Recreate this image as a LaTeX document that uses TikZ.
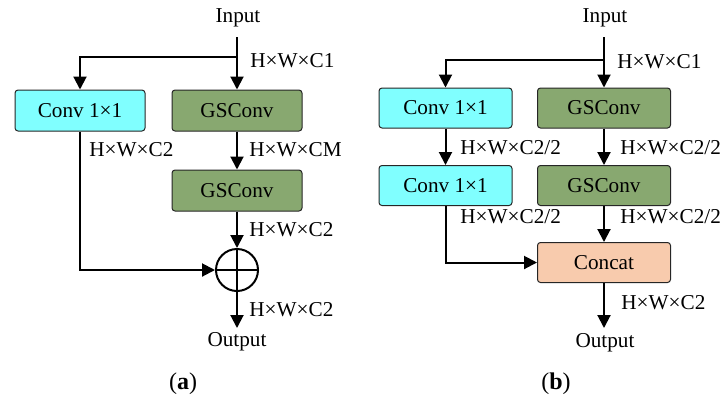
\documentclass[tikz,border=0pt]{standalone}
\usepackage{fontspec}
\setmainfont{Liberation Serif}
\usetikzlibrary{arrows.meta}
\definecolor{cyanbox}{HTML}{80FFFF}
\definecolor{greenbox}{HTML}{88A870}
\definecolor{peachbox}{HTML}{F8CBAD}
\begin{document}
\begin{tikzpicture}[x=0.5pt,y=-0.5pt,
  font=\fontsize{10.6}{12}\selectfont,
  blk/.style={draw=black!85,line width=0.5pt,rounded corners=1.5pt,minimum width=65pt,minimum height=20.5pt,inner sep=0pt},
  blkb/.style={blk,minimum width=66.5pt,minimum height=20pt},
  conn/.style={line width=1pt,-{Triangle[width=6.5pt,length=6.5pt]}},
  line/.style={line width=1pt},
  lab/.style={anchor=west,inner sep=0pt},
  txt/.style={inner sep=0pt},
  captext/.style={inner sep=0pt,font=\fontsize{12}{14}\selectfont}]
\useasboundingbox (0,0) rectangle (723,398);
% ---------- (a) ----------
\node[txt] (ina) at (238,18) {Input};
\node[blk,fill=cyanbox] (ca) at (80,110.5) {Conv 1×1};
\node[blk,fill=greenbox] (g1a) at (237,110.5) {GSConv};
\node[blk,fill=greenbox] (g2a) at (237,190.5) {GSConv};
\node[draw,circle,line width=1pt,minimum size=21pt,inner sep=0pt,
  path picture={\draw[line width=1pt] (path picture bounding box.north) -- (path picture bounding box.south)
  (path picture bounding box.west) -- (path picture bounding box.east);}] (adda) at (237,270) {};
\node[txt] (outa) at (237,342) {Output};
\node[captext] (capa) at (183,384) {(\textbf{a})};
\coordinate (ba) at (237,57);
\draw[line] (237,37) -- (ba);
\draw[conn] (ba) -- (g1a.north);
\draw[conn] (ba) -| (ca.north);
\draw[conn] (g1a) -- (g2a);
\draw[conn] (g2a) -- (adda);
\draw[conn] (ca.south) |- (adda.west);
\draw[conn] (adda.south) -- (237,328);
\node[lab] (la1) at (250,61) {H×W×C1};
\node[lab] (la2) at (89,150) {H×W×C2};
\node[lab] (la3) at (249,150) {H×W×CM};
\node[lab] (la4) at (249,230) {H×W×C2};
\node[lab] (la5) at (249,310) {H×W×C2};
% ---------- (b) ----------
\node[txt] (inb) at (605,18) {Input};
\node[blkb,fill=cyanbox] (c1b) at (445.5,108) {Conv 1×1};
\node[blkb,fill=greenbox] (g1b) at (604,108) {GSConv};
\node[blkb,fill=cyanbox] (c2b) at (445.5,185.5) {Conv 1×1};
\node[blkb,fill=greenbox] (g2b) at (604,185.5) {GSConv};
\node[blkb,fill=peachbox] (cat) at (604,262.5) {Concat};
\node[txt] (outb) at (605,343) {Output};
\node[captext] (capb) at (556,384) {(\textbf{b})};
\coordinate (bb) at (604,60);
\draw[line] (604,37) -- (bb);
\draw[conn] (bb) -- (g1b.north);
\draw[conn] (bb) -| (c1b.north);
\draw[conn] (c1b) -- (c2b);
\draw[conn] (g1b) -- (g2b);
\draw[conn] (g2b) -- (cat);
\draw[conn] (c2b.south) |- (cat.west);
\draw[conn] (cat.south) -- (604,328);
\node[lab] (lb1) at (617,62) {H×W×C1};
\node[lab] (lb2) at (460,148) {H×W×C2/2};
\node[lab] (lb3) at (620,148) {H×W×C2/2};
\node[lab] (lb4) at (460,217) {H×W×C2/2};
\node[lab] (lb5) at (620,217) {H×W×C2/2};
\node[lab] (lb6) at (621,303) {H×W×C2};
\end{tikzpicture}
\end{document}
